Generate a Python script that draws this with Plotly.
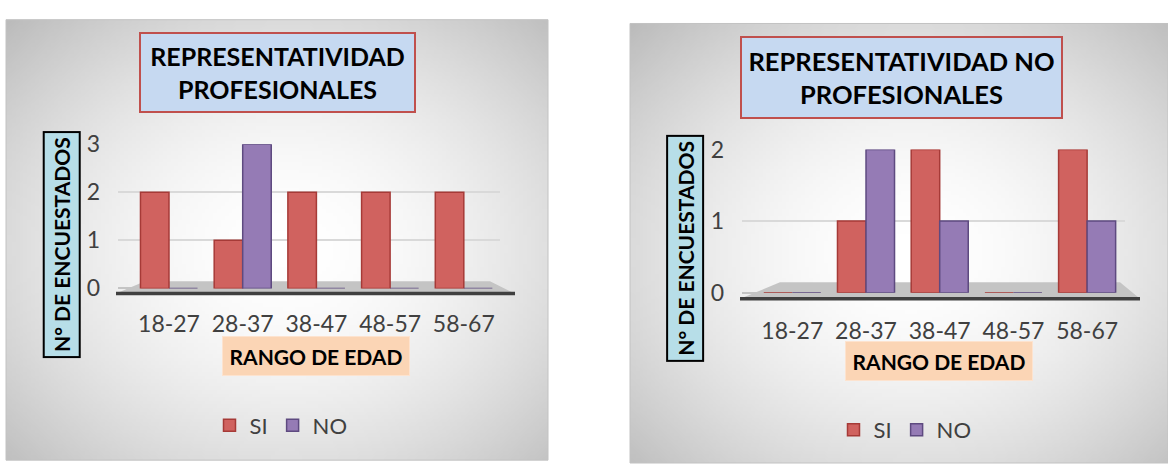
import base64, struct, zlib
import plotly.graph_objects as go

# ---------------- data ----------------
categories = ["18-27", "28-37", "38-47", "48-57", "58-67"]
prof_si = [2, 1, 2, 2, 2]
prof_no = [0, 3, 0, 0, 0]
noprof_si = [0, 1, 2, 0, 2]
noprof_no = [0, 2, 1, 0, 1]
series_names = ["SI", "NO"]
title_left = "REPRESENTATIVIDAD<br>PROFESIONALES"
title_right = "REPRESENTATIVIDAD NO<br>PROFESIONALES"
y_title = "N° DE ENCUESTADOS"
x_title = "RANGO DE EDAD"
y_ticks_left = [0, 1, 2, 3]
y_ticks_right = [0, 1, 2]

W, H = 1168, 476
SI_FILL, SI_LINE = "#D0625F", "#A63A37"
NO_FILL, NO_LINE = "#957BB5", "#5E4A80"
FONT = "Lato, 'Open Sans', sans-serif"
TXT = "#404040"


def px(x):
    return x / W


def py(y):
    return 1 - y / H


# ---------- radial gradient background (png) ----------
def gradient_png(w, h, cx=0.52, cy=0.52, amp=64, p=1.8):
    rows = []
    for j in range(h):
        row = bytearray([0])
        for i in range(w):
            dx = ((i + 0.5) / w - cx) / 0.5
            dy = ((j + 0.5) / h - cy) / 0.5
            d = ((dx * dx + dy * dy) / 2) ** 0.5
            v = int(round(255 - amp * (d ** p)))
            row.append(max(0, min(255, v)))
        rows.append(bytes(row))
    raw = b"".join(rows)

    def chunk(t, data):
        c = struct.pack(">I", len(data)) + t + data
        return c + struct.pack(">I", zlib.crc32(t + data) & 0xFFFFFFFF)

    png = b"\x89PNG\r\n\x1a\n"
    png += chunk(b"IHDR", struct.pack(">IIBBBBB", w, h, 8, 0, 0, 0, 0))
    png += chunk(b"IDAT", zlib.compress(raw, 9))
    png += chunk(b"IEND", b"")
    return "data:image/png;base64," + base64.b64encode(png).decode()


bg_src = gradient_png(140, 122)

fig = go.Figure()

panels = [
    dict(si=prof_si, no=prof_no, xa="x", ya="y", legend="legend"),
    dict(si=noprof_si, no=noprof_no, xa="x2", ya="y2", legend="legend2"),
]
for pnl in panels:
    fig.add_trace(go.Bar(x=categories, y=pnl["si"], name=series_names[0],
                         marker=dict(color=SI_FILL, line=dict(color=SI_LINE, width=1.5)),
                         xaxis=pnl["xa"], yaxis=pnl["ya"], legend=pnl["legend"]))
    fig.add_trace(go.Bar(x=categories, y=pnl["no"], name=series_names[1],
                         marker=dict(color=NO_FILL, line=dict(color=NO_LINE, width=1.5)),
                         xaxis=pnl["xa"], yaxis=pnl["ya"], legend=pnl["legend"]))

axis_x_common = dict(type="category", showgrid=False, showline=False, zeroline=False,
                     ticks="", tickfont=dict(family=FONT, size=23, color=TXT),
                     ticklabelstandoff=20, fixedrange=True)
axis_y_common = dict(showgrid=True, gridcolor="#d9d9d9", gridwidth=1.5, showline=False,
                     zeroline=True, zerolinecolor="#c4c4c4", zerolinewidth=2,
                     ticks="", tickfont=dict(family=FONT, size=23, color=TXT),
                     ticklabelstandoff=17, fixedrange=True)

fig.update_layout(
    width=W, height=H,
    margin=dict(l=0, r=0, t=0, b=0),
    paper_bgcolor="white", plot_bgcolor="rgba(0,0,0,0)",
    barmode="group", bargap=0.226, bargroupgap=0,
    xaxis=dict(axis_x_common, domain=[px(118), px(500)], range=[-0.692, 4.491], anchor="y"),
    yaxis=dict(axis_y_common, domain=[py(290.5), py(137.3)], range=[0, 3],
               tickvals=y_ticks_left, anchor="x"),
    xaxis2=dict(axis_x_common, domain=[px(742), px(1125)], range=[-0.6825, 4.514], anchor="y2",
                ticklabelstandoff=22),
    yaxis2=dict(axis_y_common, domain=[py(295), py(143)], range=[0, 2],
                tickvals=y_ticks_right, anchor="x2"),
    legend=dict(orientation="h", x=px(281), y=py(436), xanchor="center", yanchor="middle",
                font=dict(family=FONT, size=22, color=TXT), bgcolor="rgba(0,0,0,0)",
                itemwidth=30),
    legend2=dict(orientation="h", x=px(905), y=py(441), xanchor="center", yanchor="middle",
                 font=dict(family=FONT, size=22, color=TXT), bgcolor="rgba(0,0,0,0)",
                 itemwidth=30),
)

# panel backgrounds
fig.add_layout_image(dict(source=bg_src, xref="paper", yref="paper", x=px(6), y=py(5),
                          sizex=px(548) - px(6), sizey=py(5) - py(473), sizing="stretch",
                          xanchor="left", yanchor="top", layer="below"))
fig.add_layout_image(dict(source=bg_src, xref="paper", yref="paper", x=px(630), y=py(9),
                          sizex=px(1168) - px(630), sizey=py(9) - py(476), sizing="stretch",
                          xanchor="left", yanchor="top", layer="below"))

shapes = []
# panel borders
shapes.append(dict(type="rect", xref="paper", yref="paper", x0=px(6), x1=px(548), y0=py(473), y1=py(5),
                   line=dict(color="#c2c2c2", width=1), layer="below"))
shapes.append(dict(type="rect", xref="paper", yref="paper", x0=px(630), x1=px(1168), y0=py(476), y1=py(9),
                   line=dict(color="#c2c2c2", width=1), layer="below"))


def floor(x_tl, x_tr, x_br, x_bl, y_top, y_bot):
    path = (f"M{px(x_bl)},{py(y_bot)} L{px(x_tl)},{py(y_top)} L{px(x_tr)},{py(y_top)} "
            f"L{px(x_br)},{py(y_bot)} Z")
    shapes.append(dict(type="path", xref="paper", yref="paper", path=path,
                       fillcolor="#c4c4c4", line=dict(width=0), layer="below"))
    shapes.append(dict(type="line", xref="paper", yref="paper", x0=px(x_bl), x1=px(x_br),
                       y0=py(y_bot), y1=py(y_bot), line=dict(color="#404040", width=3.5), layer="below"))


floor(145, 490, 515, 116, 283, 296)
floor(780, 1120, 1140, 740, 284, 301.5)
fig.update_layout(shapes=shapes)

common_ann = dict(xref="paper", yref="paper", showarrow=False, xanchor="center",
                  yanchor="middle", borderpad=0)
ann = []
ann.append(dict(common_ann, text=title_left, x=px(277.5), y=py(61.5),
                width=273, height=77, borderwidth=2,
                bordercolor="#C0504D", bgcolor="#C6D9F1",
                font=dict(family=FONT, size=25, color="black", weight="bold")))
ann.append(dict(common_ann, text=title_right, x=px(901.3), y=py(66.7),
                width=319, height=79, borderwidth=2,
                bordercolor="#C0504D", bgcolor="#C6D9F1",
                font=dict(family=FONT, size=25.5, color="black", weight="bold")))
for cx, cy in [(61.9, 243.5), (685, 248.5)]:
    ann.append(dict(common_ann, text=y_title, x=px(cx), y=py(cy),
                    textangle=-90, width=223, height=34,
                    borderwidth=2, bordercolor="black", bgcolor="#B7DEE8",
                    font=dict(family=FONT, size=21, color="black", weight="bold")))
for cx, cy in [(315.5, 362.8), (939, 367.5)]:
    ann.append(dict(common_ann, text=x_title, x=px(cx), y=py(cy),
                    width=186, height=38, borderwidth=1,
                    bordercolor="#FDE3CF", bgcolor="#FBD5B5",
                    font=dict(family=FONT, size=21, color="black", weight="bold")))
fig.update_layout(annotations=ann)

fig.write_html("out.html")
